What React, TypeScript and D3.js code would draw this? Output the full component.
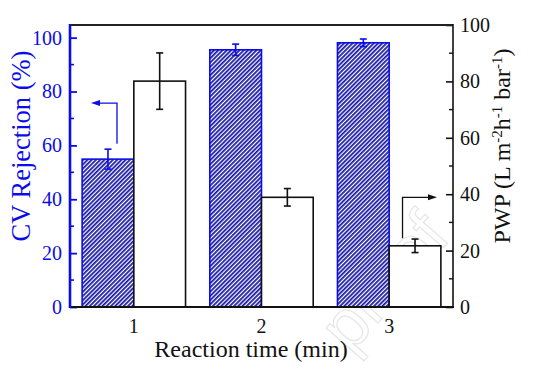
import React, { useEffect, useRef } from "react";
import * as d3 from "d3";

// values
const times = ["1", "2", "3"];
const cvRejection = [54.9, 95.5, 98.1];
const cvRejectionErr = [3.7, 2.1, 1.4];
const pwp = [80.1, 38.9, 21.7];
const pwpErr = [10.0, 3.1, 2.4];
const leftTicks = [0, 20, 40, 60, 80, 100];
const leftMinor = [10, 30, 50, 70, 90];
const rightTicks = [0, 20, 40, 60, 80, 100];
const rightMinor = [10, 30, 50, 70, 90];

const W = 539;
const H = 370;
const BLUE = "#0c0cea";
const HATCH = "#1414a4";
const SERIF = "'Liberation Serif', 'Times New Roman', serif";

const App = () => {
  const ref = useRef<SVGSVGElement>(null);

  useEffect(() => {
    const svg = d3.select(ref.current);
    svg.selectAll("*").remove();

    const left = 70, right = 453, top = 25, bottom = 307;

    const x = d3.scaleBand().domain(times).range([left, right]).paddingInner(0.19).paddingOuter(0.095);
    const sub = d3.scaleBand().domain(["cv", "pwp"]).range([0, x.bandwidth()]);
    const yL = d3.scaleLinear().domain([0, 104.7]).range([bottom, top]);
    const yR = d3.scaleLinear().domain([0, 100]).range([bottom, top]);

    const defs = svg.append("defs");
    const pat = defs
      .append("pattern")
      .attr("id", "hatch")
      .attr("patternUnits", "userSpaceOnUse")
      .attr("width", 3)
      .attr("height", 3)
      .attr("patternTransform", "rotate(45)");
    pat.append("rect").attr("width", 3).attr("height", 3).attr("fill", "#fff");
    pat.append("line").attr("x1", 0.9).attr("y1", 0).attr("x2", 0.9).attr("y2", 3)
      .attr("stroke", HATCH).attr("stroke-width", 1.75);

    // faint watermark
    svg.append("text")
      .attr("transform", "translate(452,238) rotate(-49)")
      .attr("text-anchor", "end")
      .attr("font-family", "'Liberation Sans', Arial, sans-serif")
      .attr("font-size", 68)
      .attr("fill", "none")
      .attr("stroke", "#e6e6e6")
      .attr("stroke-width", 1.2)
      .text("proof");

    const g = svg.append("g");

    // CV rejection bars (hatched)
    g.selectAll(".cv")
      .data(cvRejection)
      .enter()
      .append("rect")
      .attr("x", (d, i) => x(times[i])! + sub("cv")!)
      .attr("y", (d) => yL(d))
      .attr("width", sub.bandwidth())
      .attr("height", (d) => bottom - yL(d))
      .attr("fill", "url(#hatch)")
      .attr("stroke", BLUE)
      .attr("stroke-width", 1.6);

    // PWP bars (white)
    g.selectAll(".pwp")
      .data(pwp)
      .enter()
      .append("rect")
      .attr("x", (d, i) => x(times[i])! + sub("pwp")!)
      .attr("y", (d) => yR(d))
      .attr("width", sub.bandwidth())
      .attr("height", (d) => bottom - yR(d))
      .attr("fill", "#fff")
      .attr("stroke", "#111")
      .attr("stroke-width", 1.6);

    const errBars = (vals: number[], errs: number[], key: string, y: any, color: string) => {
      vals.forEach((v, i) => {
        const cx = x(times[i])! + sub(key)! + sub.bandwidth() / 2;
        const y1 = y(v + errs[i]);
        const y2 = y(v - errs[i]);
        const eg = g.append("g").attr("stroke", color).attr("stroke-width", 1.6);
        eg.append("line").attr("x1", cx).attr("x2", cx).attr("y1", y1).attr("y2", y2);
        eg.append("line").attr("x1", cx - 3.5).attr("x2", cx + 3.5).attr("y1", y1).attr("y2", y1);
        eg.append("line").attr("x1", cx - 3.5).attr("x2", cx + 3.5).attr("y1", y2).attr("y2", y2);
      });
    };
    errBars(cvRejection, cvRejectionErr, "cv", yL, BLUE);
    errBars(pwp, pwpErr, "pwp", yR, "#111");

    // arrows pointing to the matching axis
    const arrow = (px: number, yFrom: number, yTo: number, hx: number, color: string) => {
      const dir = hx > px ? 1 : -1;
      const ag = g.append("g");
      ag.append("path")
        .attr("d", `M${px},${yFrom}V${yTo}H${hx - dir * 7}`)
        .attr("fill", "none")
        .attr("stroke", color)
        .attr("stroke-width", 1.3);
      ag.append("path")
        .attr("d", `M${hx},${yTo}L${hx - dir * 9},${yTo - 3}L${hx - dir * 9},${yTo + 3}Z`)
        .attr("fill", color);
    };
    const cv1 = x(times[0])! + sub("cv")! + sub.bandwidth() / 2;
    arrow(cv1 + 9, yL(60.6), yL(75.7), cv1 - 17, BLUE);
    const pw3 = x(times[2])! + sub("pwp")! + sub.bandwidth() / 2;
    arrow(pw3 - 12.5, yR(24.4), yR(38.9), pw3 + 22, "#111");

    // left axis (blue)
    const la = g.append("g")
      .attr("transform", `translate(${left},0)`)
      .call(d3.axisLeft(yL).tickValues(leftTicks).tickSizeInner(-7).tickSizeOuter(0).tickPadding(8));
    la.select(".domain").remove();
    la.selectAll("line").attr("stroke", BLUE).attr("stroke-width", 1.8);
    la.selectAll("text").attr("fill", BLUE).attr("font-family", SERIF).attr("font-size", 20);
    leftMinor.forEach((v) => {
      g.append("line").attr("x1", left).attr("x2", left + 4).attr("y1", yL(v)).attr("y2", yL(v))
        .attr("stroke", BLUE).attr("stroke-width", 1.6);
    });

    // right axis (black)
    const ra = g.append("g")
      .attr("transform", `translate(${right},0)`)
      .call(d3.axisRight(yR).tickValues(rightTicks).tickSizeInner(-7).tickSizeOuter(0).tickPadding(7));
    ra.select(".domain").remove();
    ra.selectAll("line").attr("stroke", "#111").attr("stroke-width", 1.6);
    ra.selectAll("text").attr("fill", "#111").attr("font-family", SERIF).attr("font-size", 20);
    rightMinor.forEach((v) => {
      g.append("line").attr("x1", right).attr("x2", right - 4).attr("y1", yR(v)).attr("y2", yR(v))
        .attr("stroke", "#111").attr("stroke-width", 1.4);
    });

    // frame
    g.append("line").attr("x1", left).attr("x2", right).attr("y1", top).attr("y2", top)
      .attr("stroke", "#222").attr("stroke-width", 1.8);
    g.append("line").attr("x1", left).attr("x2", right + 1).attr("y1", bottom).attr("y2", bottom)
      .attr("stroke", "#111").attr("stroke-width", 2);
    g.append("line").attr("x1", right).attr("x2", right).attr("y1", top - 0.9).attr("y2", bottom)
      .attr("stroke", "#111").attr("stroke-width", 1.6);
    g.append("line").attr("x1", left).attr("x2", left).attr("y1", top - 1).attr("y2", bottom + 1)
      .attr("stroke", BLUE).attr("stroke-width", 2.6);

    // x tick labels
    g.selectAll(".xl")
      .data(times)
      .enter()
      .append("text")
      .attr("x", (d) => x(d)! + x.bandwidth() / 2)
      .attr("y", 333)
      .attr("text-anchor", "middle")
      .attr("font-family", SERIF)
      .attr("font-size", 20)
      .attr("fill", "#111")
      .text((d) => d);

    // titles
    svg.append("text")
      .attr("x", 251)
      .attr("y", 357)
      .attr("text-anchor", "middle")
      .attr("font-family", SERIF)
      .attr("font-size", 24)
      .attr("fill", "#111")
      .text("Reaction time (min)");

    svg.append("text")
      .attr("transform", "translate(30,146) rotate(-90)")
      .attr("text-anchor", "middle")
      .attr("font-family", SERIF)
      .attr("font-size", 26.5)
      .attr("fill", BLUE)
      .text("CV Rejection (%)");

    const rt = svg.append("text")
      .attr("transform", "translate(510,146) rotate(-90)")
      .attr("text-anchor", "middle")
      .attr("font-family", SERIF)
      .attr("font-size", 24)
      .attr("fill", "#111");
    const parts: [string, boolean][] = [
      ["PWP (L m", false], ["-2", true], ["h", false], ["-1", true], [" bar", false], ["-1", true], [")", false],
    ];
    parts.forEach(([t, sup]) => {
      rt.append("tspan")
        .attr("font-size", sup ? 15 : 24)
        .attr("baseline-shift", sup ? "55%" : null)
        .text(t);
    });
  }, []);

  return (
    <svg
      ref={ref}
      width={W}
      height={H}
      style={{ position: "absolute", left: 0, top: 0, background: "#fff" }}
    />
  );
};

export default App;
